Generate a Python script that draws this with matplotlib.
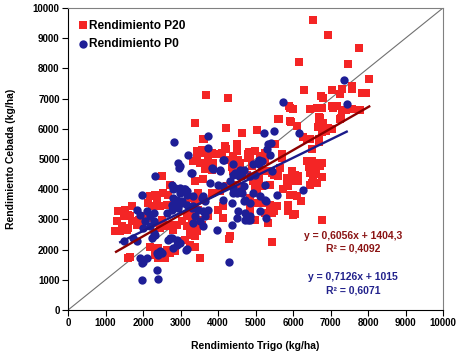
import matplotlib
matplotlib.use("Agg")
import matplotlib.pyplot as plt
import numpy as np

plt.rcParams['font.family'] = ['Liberation Sans', 'DejaVu Sans']

# Rendimiento P20 (red squares): (trigo, cebada)
p20 = [
(3680,7110),(4260,7010),(3380,6180),(4210,6030),(4630,5870),(5030,5950),(3630,5670),(4200,5330),(4500,5480),(4820,5220),
(6540,9610),(6920,9090),(7770,8680),(6160,8200),(7470,8150),(8020,7640),(7560,7400),(7560,7300),(7030,7290),(6290,7290),
(7830,7180),(7950,7180),(7300,7330),(6740,7090),(6810,7030),(7250,7140),
(5920,6700),(6010,6640),(6440,6640),(6630,6700),(6760,6700),(7030,6760),(7070,6700),(7310,6620),(7400,6620),(7560,6640),(7790,6620),
(5630,6330),(5950,6230),(6700,6400),(6700,6180),(6800,6140),(6670,6070),(6940,6030),(7270,6370),(7030,6000),(6100,6090),
(6270,5740),(6450,5650),(6700,5630),(6760,5880),(6880,5940),(5520,5510),(6500,5340),(6690,5560),(5700,5180),
(5880,6760),(5990,6640),(7170,6760),(5920,6260),(6720,6370),(6810,6200),(7250,6310),(6680,6090),(6810,6040),(6990,5980),
(6360,5650),(6680,5650),
(6370,4930),(6500,4930),(6630,4880),(6760,4870),(6420,4720),(6580,4700),(6720,4750),(6450,4520),(6620,4500),(6780,4400),
(6540,4280),(6650,4200),
(5830,4380),(5960,4430),(6140,4430),(5960,4590),(6050,4480),(5920,4260),(6140,4260),(5870,4100),(6450,4150),(6500,4210),
(6010,3820),(6100,3770),(6210,3600),(5870,3490),(6050,3190),(6760,2970),(5430,2240),
(4190,5430),(4500,5320),(3430,5260),(3560,5210),(3830,5210),(3920,5150),(4100,5210),(4810,5040),(5120,5090),(5260,4980),(5610,6310),
(3340,4930),(3520,4870),(3740,4980),(3870,4870),(4360,4820),(4410,4590),(4540,4650),(4590,4870),
(5300,4590),(5480,4480),(5610,4430),
(4760,4480),(5080,4380),(4940,4260),
(3610,4320),(3390,4260),(4230,4100),(4500,4150),(4630,3990),
(3470,3880),(3830,3880),(4050,3930),(4990,3930),(5170,4100),(5740,3990),(5920,3820),(5830,4150),(6010,4320),
(3250,3210),(3300,3050),(3470,2990),(3740,3100),(4140,3050),(4990,2990),(4010,3320),(4140,3430),(4850,3380),(5030,3540),
(5430,3210),(5560,3430),(5870,3270),(6010,3160),
(3250,2660),(3430,2600),(4320,2440),(5340,2880),
(4990,5260),(5250,5210),(5700,5040),(4900,4760),(5170,4590),(5430,4540),(5650,4710),(4990,4210),(5390,4150),(5030,3880),
(4850,3710),(5390,3490),(5480,3270),(4850,3320),(5170,3540),(5250,3210),
(3610,5650),(3560,5290),(3790,5150),(3960,5150),(4500,5430),(4500,5260),(4850,5040),(3430,5040),(3830,4650),(4230,4980),
(4360,4740),(4540,4980),(3650,4670),(2500,4430),
(3700,4870),(3870,4710),(4410,5090),(4810,5150),
(2720,4150),(2540,3880),(2360,3650),(2230,3430),(2450,3430),(2630,3490),(2900,3380),(3170,3100),(3340,2930),(3470,3320),(3520,2770),
(1340,3270),(1480,3100),(1610,3160),(1700,2930),(1830,2820),(1430,2770),(1560,2660),(1250,2600),(1650,1770),
(2190,3770),(2320,3820),(2360,3600),(2140,3540),(2670,3820),(3210,3710),(3390,3650),(3520,3710),
(1700,3430),(1520,3320),(1300,2930),(1390,2600),(1610,2710),
(1650,3100),(1880,2990),(2010,3100),(1960,2880),(2140,3050),
(2360,2880),(2500,2990),(2590,2770),(2450,2710),(2720,2820),(2810,2660),(2900,2820),(3030,2930),(3170,2770),(3300,2880),
(3430,2990),(3560,2820),
(1610,1720),(2190,2100),(2320,1990),(2410,2050),(2500,1880),(2630,1990),(2320,1830),(2410,1720),(2590,1720),(2720,1880),
(2850,1940),(2990,2270),(3250,2160),(3390,2440),(3520,1720),(3250,2490),(3120,2330),(4300,2350),(3390,2100),
]

# Rendimiento P0 (blue circles)
p0 = [
(2830,5560),(3740,5760),(3720,5370),(3200,5130),
(7370,7610),(5720,6880),(7430,6810),(5230,5870),(5500,5920),(6170,5870),(5340,5480),(5400,5540),(5310,5340),(5390,5140),(6260,3960),
(5030,4870),(5080,4820),(5260,4150),(5570,3820),(5280,3600),(5120,3270),(5280,3050),(4850,2990),(5430,4590),(4990,4480),
(4140,4980),(3300,4540),(3830,4710),(4050,4590),(4590,4650),(4940,4820),(5080,4980),(5170,4930),
(4450,4540),(4630,4430),(3790,4210),(4010,4150),(4320,4260),(4410,4040),(4500,3880),(4590,3930),(4680,4100),
(3560,3710),(3650,3600),(4140,3650),(4360,3540),(4680,3600),(4850,3540),(5260,3650),
(3340,3430),(3470,3320),(3390,3100),(3340,2880),(4540,3270),(4720,3210),(4500,3050),(4810,2990),
(3960,2660),(4360,2820),(3610,2770),
(2320,4450),(2770,4150),(2850,4040),(2990,4040),(3120,3990),(3170,3930),(1960,3820),
(2810,3710),(2900,3600),(2770,3490),(3030,3540),(2940,3380),(3300,3380),(3610,3760),
(1830,3320),(1920,3160),(2100,3270),(2190,3100),(2280,3210),(2050,2930),(2280,2930),(2190,2770),(2010,2710),
(2320,2490),(2230,2380),(2280,2550),(1480,2270),(1740,2380),(1830,2270),
(1920,1720),(2010,1600),(2100,1720),(1960,1550),
(2360,1880),(2450,1940),(2500,1880),(2410,1830),(2810,2050),(2900,2160),(3150,1990),(2670,2330),(2770,2380),
(2360,1330),(2410,1020),(1960,1000),
(4280,1600),(3170,2010),
(2940,4870),(2990,4780),
(4410,4820),(4680,4650),(4850,4430),
(4140,4100),(4410,3880),(4630,3880),(4720,3650),(4940,3880),(5120,3770),
(4720,2990),(4850,3100),
(3520,2930),(3650,3100),(3610,3270),(3740,3320),
(2810,3990),(2990,3880),(3080,3990),(3170,3820),(2900,3650),(3030,3600),(3170,3490),(3340,3760),
(2770,3320),(2630,3210),(2900,2330),(2990,2210),(2720,2380),
(2970,4710),(4160,4960),(4050,4650),(3860,4670),(4410,4480),(4570,4430),(3270,4520),
]

# Trend lines as drawn on the chart: (slope, intercept, x start, x end)
red_line = (0.7126, 1015, 1280, 8030)
blue_line = (0.6056, 1404.3, 1390, 7430)
red_eq = ["y = 0,6056x + 1404,3", "R² = 0,4092"]
blue_eq = ["y = 0,7126x + 1015", "R² = 0,6071"]
ticks = list(range(0, 10001, 1000))

RED = '#F42525'
BLUE = '#1E1E96'
DRED = '#8B1414'
DBLUE = '#22228C'

fig = plt.figure(figsize=(4.63, 3.59), dpi=100)
ax = fig.add_axes([0.147, 0.1365, 0.81, 0.8415])

ax.plot([0, 10000], [0, 10000], color='#707070', lw=0.8, zorder=1)

rx, ry = zip(*p20)
bx, by = zip(*p0)
ax.scatter(rx, ry, marker='s', s=26, color=RED, linewidths=0, zorder=2, label='Rendimiento P20')
ax.scatter(bx, by, marker='o', s=36, color=BLUE, linewidths=0, zorder=3, label='Rendimiento P0')

for (m, b, x0, x1), c in [(red_line, '#8B0000'), (blue_line, '#1A1A8A')]:
    xs = np.array([x0, x1])
    ax.plot(xs, m * xs + b, color=c, lw=1.7, zorder=4)

ax.set_xlim(0, 10000)
ax.set_ylim(0, 10000)
ax.set_xticks(ticks)
ax.set_yticks(ticks)
ax.tick_params(axis='both', direction='out', length=4, width=0.8, labelsize=7, pad=2)
for lab in ax.get_xticklabels() + ax.get_yticklabels():
    lab.set_fontweight('bold')
for s in ['top', 'right']:
    ax.spines[s].set_color('#808080')
for s in ['left', 'bottom']:
    ax.spines[s].set_color('black')
ax.tick_params(top=False, right=False)

ax.set_xlabel('Rendimiento Trigo (kg/ha)', fontsize=7.5, fontweight='bold', labelpad=9)
ax.set_ylabel('Rendimiento Cebada (kg/ha)', fontsize=7.5, fontweight='bold', labelpad=12)

leg = ax.legend(loc='upper left', bbox_to_anchor=(0.005, 0.985), frameon=False,
                handletextpad=0.0, handlelength=1.0, borderaxespad=0.2,
                labelspacing=0.55, prop={'size': 8.6, 'weight': 'bold'})

ax.text(7600, 2450, red_eq[0], color=DRED, fontsize=7.5, fontweight='bold', ha='center', va='center')
ax.text(7600, 2030, red_eq[1], color=DRED, fontsize=7.5, fontweight='bold', ha='center', va='center')
ax.text(7600, 1100, blue_eq[0], color=DBLUE, fontsize=7.5, fontweight='bold', ha='center', va='center')
ax.text(7600, 640, blue_eq[1], color=DBLUE, fontsize=7.5, fontweight='bold', ha='center', va='center')

fig.savefig('out.png', dpi=100)
